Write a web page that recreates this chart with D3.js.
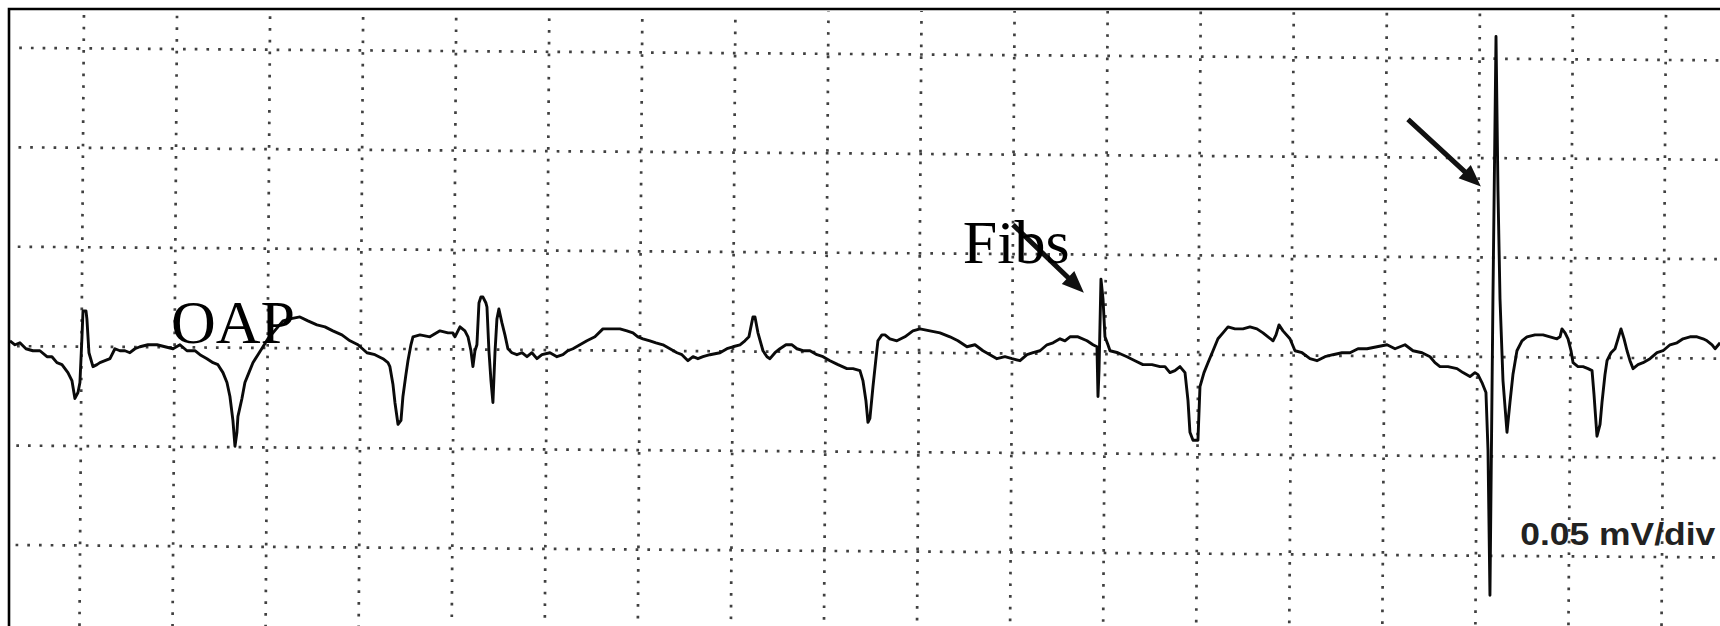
<!DOCTYPE html>
<html>
<head>
<meta charset="utf-8">
<script src="https://cdn.jsdelivr.net/npm/d3@7/dist/d3.min.js"></script>
<style>
  body { margin: 0; background: #fff; }
  svg { display: block; }
</style>
</head>
<body>
<div id="plot"></div>
<script>
// needle EMG sweep, 10 ms/div horizontally, 0.05 mV (50 uV)/div vertically
var timeMs = [
  2.15, 2.69, 3.22, 3.87, 4.62, 5.37, 6.13, 6.66, 7.20, 7.74, 8.38, 8.81, 9.13, 9.46, 9.67, 9.89,
  10.0, 10.32, 10.42, 10.64, 11.07, 11.50, 11.82, 12.36, 12.90, 13.43, 13.97, 14.51, 15.04, 15.58,
  16.12, 16.98, 17.95, 18.81, 19.67, 20.42, 21.17, 22.03, 22.57, 23.32, 23.97, 24.5, 25.04, 25.47,
  25.79, 26.11, 26.33, 26.54, 26.65, 27.08, 27.4, 27.83, 28.26, 28.8, 29.34, 29.87, 30.41, 30.95,
  31.49, 32.24, 33.31, 34.17, 35.14, 36.0, 36.85, 37.82, 38.69, 39.55, 40.51, 41.37, 42.23, 42.77,
  42.98, 43.31, 43.52, 43.85, 44.17, 44.38, 44.7, 44.92, 45.24, 45.46, 46.21, 47.28,
  48.36, 49.22, 49.75, 49.97, 50.51, 51.04, 51.37, 51.69, 51.9, 52.12, 52.33, 52.55, 52.76, 52.98,
  53.3, 53.41, 53.62, 53.84, 54.05, 54.27, 54.48, 54.69, 55.02, 55.34, 55.66, 56.09, 56.63, 57.17,
  57.71, 58.24, 58.78, 59.32, 60.18, 60.93, 61.57, 62.11, 62.65, 63.4, 64.15, 65.01, 65.87, 66.73,
  67.7, 68.45, 69.1, 69.63, 70.17, 70.92, 71.57, 72.32, 73.07, 73.83, 74.36, 75.01, 75.55, 76.08,
  76.62, 77.37, 78.45, 79.2, 79.84, 80.6, 81.13, 81.56, 81.99, 82.21, 82.53, 83.07, 83.5, 83.82,
  84.36, 84.89, 85.54, 86.19, 86.72, 87.37, 88.12, 88.87, 89.52, 90.27, 91.13, 92.09, 92.74, 93.49,
  93.81, 94.13, 94.35, 94.56, 94.89, 95.21, 95.42, 95.85, 96.18, 96.71, 97.46, 98.32, 99.18, 99.94,
  101.01, 102.09, 103.16, 104.02, 104.99, 105.85, 106.71, 107.46, 108.21, 109.07, 109.83, 110.69,
  111.44, 112.09, 112.84, 113.59, 114.24, 114.99, 115.52, 116.06, 116.92, 117.89, 118.53, 118.96,
  119.07, 119.18, 119.39, 119.61, 119.82, 120.14, 120.36, 121.21, 122.18, 123.04, 123.9, 124.87,
  125.73, 126.27, 126.8, 127.34, 127.88, 128.42, 128.74, 128.95, 129.28, 129.81, 130.03, 130.46,
  130.89, 131.43, 131.96, 132.5, 133.04, 133.79, 134.65, 135.4, 136.15, 136.8, 137.34, 137.88,
  138.2, 138.52, 138.95, 139.7,
  140.24, 141.0, 141.85, 142.6, 143.46, 144.32, 145.29, 146.15, 147.01, 147.98, 149.05, 150.13,
  150.99, 152.06, 152.92, 153.89, 154.75, 155.28, 155.82, 156.68, 157.65, 158.29, 159.04, 159.58,
  159.9, 160.33, 160.76, 160.98, 161.19, 161.51, 161.84, 162.05, 162.27, 162.59, 163.02, 163.34,
  163.66, 164.09, 164.63, 165.17, 166.03, 166.89, 167.64, 168.39, 168.72, 168.93, 169.26, 169.58,
  169.9, 170.12, 170.65, 171.19, 171.73, 172.16, 172.37, 172.69, 173.02, 173.23, 173.55, 173.77,
  174.2, 174.63, 174.95, 175.27, 175.6, 175.92, 176.24, 176.57, 177.1, 177.64, 178.39, 179.14,
  179.79, 180.54, 181.29, 181.94, 182.69, 183.44, 184.09, 184.52, 185.06, 185.38, 185.92
];
var voltUV = [
  3, 1, 2, -1, -2, -2, -5, -5, -8, -9, -13, -17, -26, -23, -18, 5,
  18, 18, 14, -3, -10, -9, -8, -7, -6, -1, -2, -2, -3, -1,
  0, 1, 1, 0, -1, 1, -2, -2, -4, -6, -8, -9, -13, -18,
  -25, -37, -50, -43, -35, -26, -18, -13, -8, -4, 0, 4, 7, 10,
  13, 14, 15, 13, 11, 10, 8, 6, 3, 1, -3, -4, -6, -8,
  -10, -19, -28, -39, -37, -25, -14, -7, 1, 5, 6, 5,
  8, 7, 7, 5, 10, 8, 5, -2, -10, -2, 1, 22, 25, 25,
  22, 20, -2, -17, -28, -3, 14, 19, 12, 6, -1, -3, -4, -3,
  -5, -3, -6, -4, -3, -5, -4, -2, -1, 1, 3, 5, 9, 9,
  9, 8, 7, 5, 4, 3, 2, 1, -1, -3, -4, -7, -5, -6,
  -5, -4, -3, -1, 0, 1, 3, 5, 15, 15, 7, -2, -5, -6,
  -3, -1, 1, 1, -1, -2, -2, -4, -5, -7, -9, -11, -11, -12,
  -17, -27, -38, -36, -20, -6, 3, 6, 6, 4, 3, 5, 8, 9,
  8, 7, 5, 3, 0, 1, -2, -4, -6, -5, -6, -7,
  -4, -3, -2, 1, 2, 4, 3, 5, 5, 3, 1, 0,
  -25, -12, 34, 24, 5, 1, -2, -3, -5, -7, -9, -9,
  -10, -10, -13, -12, -10, -13, -27, -43, -47, -47, -20, -13,
  -8, -2, 4, 7, 10, 9, 9, 10, 9, 7, 5, 3,
  6, 11, 8, 4,
  -2, -3, -6, -7, -5, -4, -3, -3, -1, -1, 0, 1,
  -1, 1, -2, -3, -5, -8, -10, -10, -11, -13, -15, -13,
  -14, -18, -23, -52, -125, 24, 156, 79, 24, -17, -43, -28,
  -14, -2, 3, 5, 6, 6, 5, 4, 5, 9, 7, 4,
  -2, -8, -10, -10, -11, -12, -24, -45, -39, -28, -14, -7,
  -3, -1, 4, 9, 4, -2, -7, -11, -9, -8, -6, -3,
  -2, 1, 2, 4, 5, 5, 4, 3, 1, -1, 2
];

var gridTimes = [10, 20, 30, 40, 50, 60, 70, 80, 90, 100, 110, 120, 130, 140, 150, 160, 170, 180];
var gridVolts = [-150, -100, -50, 0, 50, 100, 150];

// annotations (in ms / uV)
var labelText = ["OAP", "Fibs"];
var labelTime = [19.45, 104.55];
var labelVolt = [2, 42.3];
var arrowFromT = [109.93, 152.38];
var arrowFromV = [61.4, 114.3];
var arrowToT = [117.56, 160.22];
var arrowToV = [27.2, 80.6];
var scaleText = "0.05 mV/div";
var scaleTime = 185.4, scaleVolt = -99.7;

var width = 1720, height = 626;
var frameLeft = 9, frameTop = 9;

var svg = d3.select("#plot").append("svg")
    .attr("width", width)
    .attr("height", height);

var x = d3.scaleLinear().domain([10, 180]).range([83, 1665]);
var y = d3.scaleLinear().domain([-100, 150]).range([545.6, 48.5]);

svg.append("rect").attr("width", width).attr("height", height).attr("fill", "#fff");

svg.append("defs").append("clipPath").attr("id", "frame")
  .append("rect")
    .attr("x", frameLeft + 2).attr("y", frameTop + 2)
    .attr("width", width).attr("height", height);

// scanned paper is a bit tilted, so the grid gets a small rotation
var grid = svg.append("g").attr("clip-path", "url(#frame)")
  .append("g")
    .attr("transform", "rotate(0.42,100,350) translate(-1.5,0)");

grid.selectAll(".hgrid")
  .data(gridVolts)
  .enter().append("line")
    .attr("class", "hgrid")
    .attr("x1", -40).attr("x2", width + 60)
    .attr("y1", function (d) { return y(d); })
    .attr("y2", function (d) { return y(d); });

grid.selectAll(".vgrid")
  .data(gridTimes)
  .enter().append("line")
    .attr("class", "vgrid")
    .attr("x1", function (d) { return x(d); })
    .attr("x2", function (d) { return x(d); })
    .attr("y1", -20).attr("y2", height + 40);

grid.selectAll("line")
    .attr("stroke", "#1e1e1e")
    .attr("stroke-width", 2.7)
    .attr("stroke-opacity", 0.85)
    .attr("stroke-dasharray", "2.7,9");

// the trace
var trace = timeMs.map(function (t, i) { return [t, voltUV[i]]; });

var line = d3.line()
    .x(function (d) { return x(d[0]); })
    .y(function (d) { return y(d[1]); });

svg.append("path")
    .datum(trace)
    .attr("d", line)
    .attr("fill", "none")
    .attr("stroke", "#0a0a0a")
    .attr("stroke-width", 2.9)
    .attr("stroke-linejoin", "round");

// frame: only top and left edges show
svg.append("path")
    .attr("d", "M" + frameLeft + "," + height + "V" + frameTop + "H" + width)
    .attr("fill", "none")
    .attr("stroke", "#000")
    .attr("stroke-width", 2.6);

// arrows
function arrowPath(x0, y0, x1, y1) {
    var shaft = 2.5, headL = 22, headW = 9;
    var dx = x1 - x0, dy = y1 - y0, len = Math.sqrt(dx * dx + dy * dy);
    var ux = dx / len, uy = dy / len, nx = -uy, ny = ux;
    var bx = x1 - ux * headL, by = y1 - uy * headL;
    var p = [
        [x0 + nx * shaft, y0 + ny * shaft],
        [bx + nx * shaft, by + ny * shaft],
        [bx + nx * headW, by + ny * headW],
        [x1, y1],
        [bx - nx * headW, by - ny * headW],
        [bx - nx * shaft, by - ny * shaft],
        [x0 - nx * shaft, y0 - ny * shaft]
    ];
    return "M" + p.map(function (q) { return q[0].toFixed(1) + "," + q[1].toFixed(1); }).join("L") + "Z";
}

svg.selectAll(".arrow")
  .data(arrowFromT)
  .enter().append("path")
    .attr("class", "arrow")
    .attr("d", function (d, i) {
        return arrowPath(x(arrowFromT[i]), y(arrowFromV[i]), x(arrowToT[i]), y(arrowToV[i]));
    })
    .attr("fill", "#111");

svg.selectAll(".label")
  .data(labelText)
  .enter().append("text")
    .attr("class", "label")
    .attr("x", function (d, i) { return x(labelTime[i]); })
    .attr("y", function (d, i) { return y(labelVolt[i]); })
    .attr("font-family", "'Liberation Serif', 'Times New Roman', serif")
    .attr("font-size", "62px")
    .attr("fill", "#000")
    .text(function (d) { return d; });

svg.append("text")
    .attr("x", x(scaleTime))
    .attr("y", y(scaleVolt))
    .attr("text-anchor", "end")
    .attr("font-family", "'Liberation Sans', Arial, sans-serif")
    .attr("font-weight", "bold")
    .attr("font-size", "32px")
    .attr("fill", "#222")
    .attr("textLength", 195)
    .attr("lengthAdjust", "spacingAndGlyphs")
    .text(scaleText);
</script>
</body>
</html>
